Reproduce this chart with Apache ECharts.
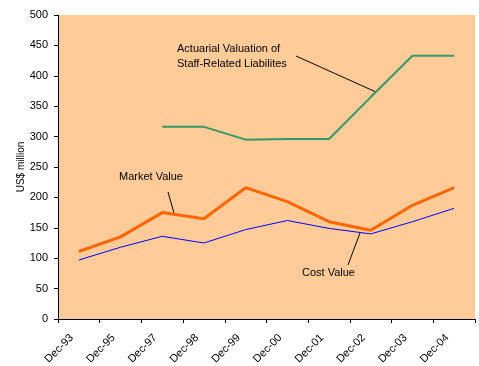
<!DOCTYPE html>
<html><head><meta charset="utf-8">
<script src="https://cdn.jsdelivr.net/npm/echarts@6/dist/echarts.min.js"></script>
<style>html,body{margin:0;padding:0;background:#fff}#c{width:479px;height:366px}</style>
</head><body><div id="c"></div>
<script>
const categories = ['Dec-93','Dec-95','Dec-97','Dec-98','Dec-99','Dec-00','Dec-01','Dec-02','Dec-03','Dec-04'];
const marketValue = [111, 135, 175, 165, 216, 193, 160, 146, 187, 216];
const costValue = [97, 118, 136, 125, 147, 162, 149, 140, 160, 182];
const actuarialValue = [null, null, 316, 316, 295, 296, 296, 365, 433, 433];
const yTicks = {min: 0, max: 500, interval: 50};

const chart = echarts.init(document.getElementById('c'), null, {renderer: 'canvas'});
const font = 'Arial, "Liberation Sans", sans-serif';
chart.setOption({
  animation: false,
  backgroundColor: '#ffffff',
  grid: {left: 58, top: 15, right: 4, bottom: 47, show: true, backgroundColor: '#FFCC99', borderWidth: 0,
         containLabel: false, outerBoundsMode: 'none'},
  xAxis: {
    type: 'category', data: categories, boundaryGap: true,
    axisLine: {lineStyle: {color: '#000', width: 1}},
    axisTick: {show: true, alignWithLabel: false, length: 4, lineStyle: {color: '#000'}},
    axisLabel: {rotate: 45, fontSize: 11, color: '#000', fontFamily: font, margin: 10, interval: 0, padding: [0, 10, 0, 0]}
  },
  yAxis: {
    type: 'value', min: yTicks.min, max: yTicks.max, interval: yTicks.interval,
    name: 'US$ million', nameLocation: 'middle', nameGap: 32, nameMoveOverlap: false,
    nameTextStyle: {fontSize: 10, color: '#000', fontFamily: font},
    axisLine: {show: true, lineStyle: {color: '#000', width: 1}},
    axisTick: {show: true, length: 4, lineStyle: {color: '#000'}},
    splitLine: {show: false},
    axisLabel: {fontSize: 11, color: '#000', fontFamily: font, margin: 10}
  },
  series: [
    {name: 'Actuarial', type: 'line', data: actuarialValue, symbol: 'none', connectNulls: false,
     lineStyle: {color: '#339966', width: 2}},
    {name: 'Market Value', type: 'line', data: marketValue, symbol: 'none',
     lineStyle: {color: '#FF6600', width: 3}},
    {name: 'Cost Value', type: 'line', data: costValue, symbol: 'none',
     lineStyle: {color: '#0000FF', width: 1}}
  ],
  graphic: [
    {type: 'text', left: 177, top: 41, style: {text: 'Actuarial Valuation of\nStaff-Related Liabilites', fill: '#000', font: '11px ' + font, lineHeight: 15}},
    {type: 'line', shape: {x1: 296, y1: 56, x2: 376, y2: 92}, style: {stroke: '#000', lineWidth: 1}},
    {type: 'text', left: 119, top: 171, style: {text: 'Market Value', fill: '#000', font: '11px ' + font}},
    {type: 'line', shape: {x1: 168, y1: 192, x2: 174, y2: 213}, style: {stroke: '#000', lineWidth: 1}},
    {type: 'text', left: 302, top: 267, style: {text: 'Cost Value', fill: '#000', font: '11px ' + font}},
    {type: 'line', shape: {x1: 348, y1: 265, x2: 360, y2: 233}, style: {stroke: '#000', lineWidth: 1}}
  ]
});
</script></body></html>
